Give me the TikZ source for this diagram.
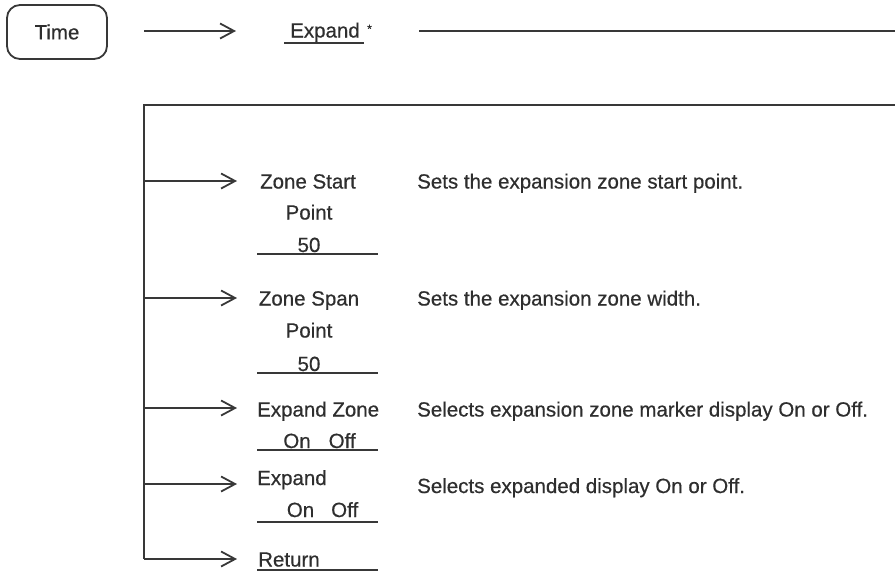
\documentclass[tikz,border=0pt]{standalone}
\usepackage{fontspec}
\setmainfont{Liberation Sans}[FakeBold=0.5]
\usetikzlibrary{arrows.meta}
\begin{document}
\begin{tikzpicture}[x=1pt,y=-1pt,
  font=\fontsize{20.5}{24}\selectfont,
  every node/.style={inner sep=0pt, text=black!82},
  ln/.style={line width=1.8pt, draw=black!78},
  arr/.style={ln, -{Straight Barb[length=14pt,width=15pt,line width=1.8pt]}},
  menu/.style={anchor=base},
  desc/.style={anchor=base west}]
\useasboundingbox (0,0) rectangle (895,571);

% top row
\node[draw=black!78, line width=1.8pt, rounded corners=13pt, minimum width=100pt, minimum height=54pt] (time) at (57,32) {Time};
\node[menu] (expand) at (325,37.5) {Expand};
\node[anchor=base west, font=\fontsize{12}{12}\selectfont] (star) at (367,33) {*};
\coordinate (t0) at (144,31);
\coordinate (t1) at (236,31);
\draw[arr] (t0) -- (t1);
\draw[ln, line width=1.5pt] (284,43) -- (364,43);
\coordinate (l0) at (419,31);
\coordinate (l1) at (895,31);
\draw[ln] (l0) -- (l1);

% frame
\coordinate (fr) at (895,105);
\coordinate (ftl) at (144,105);
\coordinate (fbl) at (144,559);
\draw[ln] (fr) -- (ftl) -- (fbl);

% menu items
\node[menu] (zs) at (308,188.5) {Zone Start};
\node[menu] (zsp) at (309,219.5) {Point};
\node[menu] (zsv) at (309,252) {50};
\draw[ln, line width=1.5pt] (257,254) -- (378,254);
\node[desc] (d1) at (417,188.5) {Sets the expansion zone start point.};

\node[menu] (zp) at (309,305.5) {Zone Span};
\node[menu] (zpp) at (309,337.5) {Point};
\node[menu] (zpv) at (309,371) {50};
\draw[ln, line width=1.5pt] (257,373) -- (378,373);
\node[desc] (d2) at (417,305.5) {Sets the expansion zone width.};

\node[desc] (ez) at (257,416.5) {Expand Zone};
\node[menu] (ezv) at (319.5,448) {On\hspace{18pt}Off};
\draw[ln, line width=1.5pt] (257,450) -- (378,450);
\node[desc] (d3) at (417,416.5) {Selects expansion zone marker display On or Off.};

\node[desc] (ex) at (257,485) {Expand};
\node[menu] (exv) at (322.5,517) {On\hspace{17pt}Off};
\draw[ln, line width=1.5pt] (257,522) -- (378,522);
\node[desc] (d4) at (417,493) {Selects expanded display On or Off.};

\node[desc] (ret) at (258,566.5) {Return};
\draw[ln, line width=1.5pt] (257,570) -- (378,570);

% arrows
\coordinate (a1) at (144,181);
\coordinate (a2) at (144,298);
\coordinate (a3) at (144,408);
\coordinate (a4) at (144,484);
\draw[arr] (a1) -- (a1 -| 237,0);
\draw[arr] (a2) -- (a2 -| 237,0);
\draw[arr] (a3) -- (a3 -| 237,0);
\draw[arr] (a4) -- (a4 -| 237,0);
\draw[arr] (fbl) -- (fbl -| 237,0);
\end{tikzpicture}
\end{document}
